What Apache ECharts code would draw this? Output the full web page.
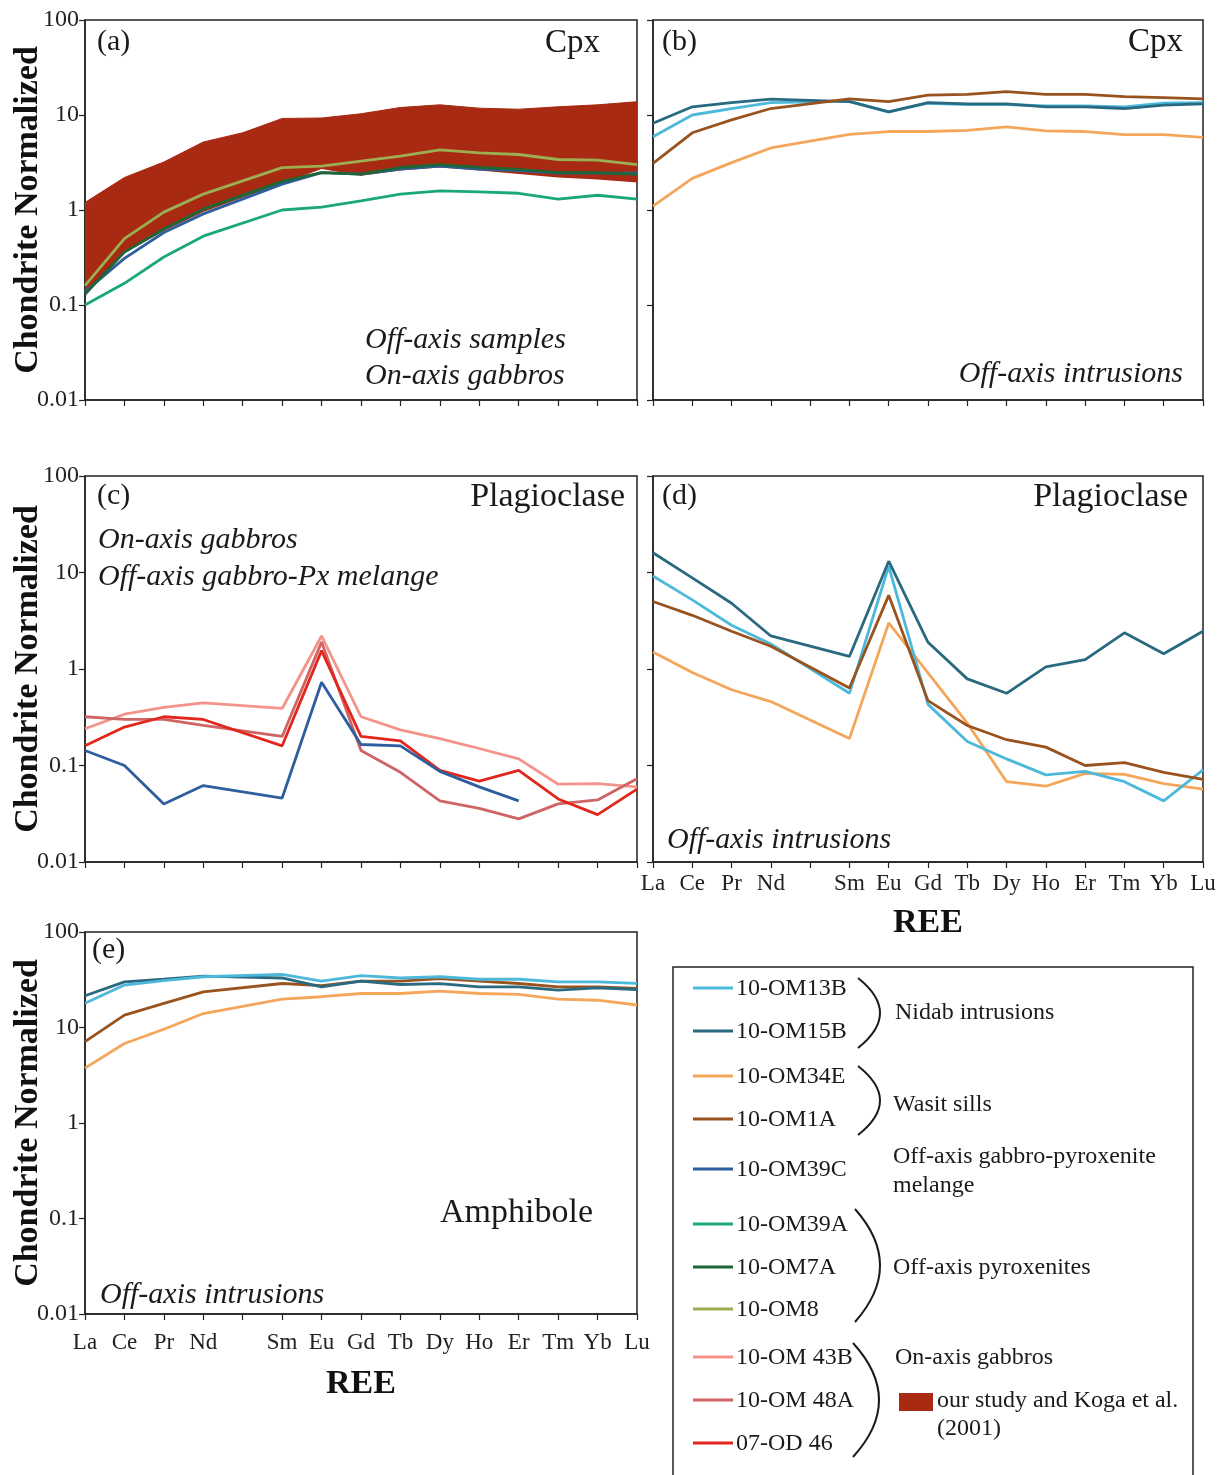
<!DOCTYPE html>
<html>
<head>
<meta charset="utf-8">
<script src="https://cdn.jsdelivr.net/npm/echarts@6/dist/echarts.min.js"></script>
<style>
  html, body { margin: 0; padding: 0; background: #fff; }
  #chart { width: 1222px; height: 1475px; }
</style>
</head>
<body>
<div id="chart"></div>
<script>
var chart = echarts.init(document.getElementById('chart'));
var FONT = '"Liberation Serif", "Times New Roman", serif';

// REE on x axis (Pm kept as an empty slot)
var ree = ['La','Ce','Pr','Nd','Pm','Sm','Eu','Gd','Tb','Dy','Ho','Er','Tm','Yb','Lu'];
var yTickLabels = ['0.01','0.1','1','10','100'];

// (a) Cpx - off-axis pyroxenites, melange, on-axis gabbro field
var cpxFieldLow  = [0.13,0.35,0.6,0.95,1.35,1.9,2.7,2.3,2.6,2.8,2.6,2.4,2.2,2.1,1.95];
var cpxFieldHigh = [1.2,2.2,3.2,5.2,6.5,9.2,9.3,10.3,12,12.8,11.8,11.5,12.2,12.8,13.8];
var cpxA_39A = [0.1,0.169,0.32,0.53,null,1.0,1.07,1.25,1.47,1.59,1.55,1.5,1.3,1.43,1.3];
var cpxA_39C = [0.138,0.31,0.58,0.91,null,1.87,2.47,2.38,2.7,2.9,2.7,2.6,2.45,2.45,2.45];
var cpxA_7A  = [0.13,0.36,0.63,1.02,null,2.0,2.47,2.38,2.8,3.0,2.8,2.68,2.47,2.47,2.37];
var cpxA_8   = [0.16,0.5,0.95,1.47,null,2.79,2.9,3.27,3.7,4.3,4.0,3.84,3.4,3.35,3.0];

// (b) Cpx - off-axis intrusions
var cpxB_34E = [1.1,2.15,3.15,4.5,null,6.25,6.7,6.7,6.9,7.5,6.8,6.7,6.2,6.2,5.8];
var cpxB_13B = [5.9,10,11.7,13.5,null,14,10.8,13.3,12.9,12.9,12.5,12.5,12.2,13.3,13.5];
var cpxB_15B = [8.2,12.2,13.5,14.7,null,13.8,10.8,13.5,13.1,13.1,12.2,12.2,11.7,12.7,13.1];
var cpxB_1A  = [3.1,6.5,8.9,11.7,null,14.8,13.8,16.2,16.5,17.6,16.5,16.5,15.6,15.2,14.8];

// (c) Plagioclase - on-axis gabbros, melange
var plagC_43B  = [0.24,0.34,0.40,0.445,null,0.39,2.2,0.32,0.234,0.19,0.15,0.117,0.064,0.065,0.06];
var plagC_48A  = [0.32,0.30,0.30,0.26,null,0.2,1.9,0.143,0.085,0.043,0.036,0.028,0.04,0.044,0.073];
var plagC_OD46 = [0.16,0.25,0.32,0.30,null,0.16,1.55,0.2,0.18,0.089,0.069,0.089,0.045,0.031,0.057];
var plagC_39C  = [0.143,0.1,0.04,0.062,null,0.046,0.73,0.165,0.16,0.087,0.06,0.043,null,null,null];

// (d) Plagioclase - off-axis intrusions
var plagD_34E = [1.5,0.92,0.61,0.46,null,0.19,3.0,0.91,0.275,0.068,0.061,0.083,0.081,0.065,0.057];
var plagD_1A  = [5.0,3.6,2.46,1.72,null,0.635,5.8,0.47,0.26,0.185,0.155,0.1,0.107,0.085,0.072];
var plagD_13B = [9.2,5.2,2.84,1.82,null,0.56,11.6,0.43,0.177,0.117,0.08,0.087,0.068,0.043,0.09];
var plagD_15B = [16,8.8,4.8,2.2,null,1.35,13.1,1.89,0.79,0.56,1.05,1.25,2.37,1.44,2.46];

// (e) Amphibole - off-axis intrusions
var amphE_34E = [3.75,6.8,9.6,14,null,19.8,21,22.7,22.7,24,22.7,22.2,19.8,19.3,17.2];
var amphE_1A  = [7.1,13.5,17.9,23.6,null,28.9,27.4,30.6,30.6,32.5,30.6,28.9,26.6,26.6,25.6];
var amphE_15B = [21.5,30,32,34.5,null,33,26.6,30.6,28.2,28.8,26.6,26.6,24.6,26,25];
var amphE_13B = [17.9,27.8,31,34,null,36,30.6,35,33,34,32,32,30,30,29];

var colors = {
  '10-OM13B': '#4cb9da',
  '10-OM15B': '#2a6a80',
  '10-OM34E': '#f4a65a',
  '10-OM1A': '#99531f',
  '10-OM39C': '#2e5e9e',
  '10-OM39A': '#1aa874',
  '10-OM7A': '#1f6636',
  '10-OM8': '#9cae52',
  '10-OM 43B': '#f3938a',
  '10-OM 48A': '#cf6464',
  '07-OD 46': '#e2261c'
};
var fieldColor = '#a82a12';

var grids = [
  { left: 85, top: 20, width: 552, height: 380 },
  { left: 653, top: 20, width: 550, height: 380 },
  { left: 85, top: 476, width: 552, height: 386 },
  { left: 653, top: 476, width: 550, height: 386 },
  { left: 85, top: 932, width: 552, height: 382 }
];
grids.forEach(function (g) {
  g.show = true;
  g.borderColor = '#222';
  g.borderWidth = 1.5;
  g.containLabel = false;
});

function xAxis(i, showLabels, margin, nameGap) {
  return {
    type: 'category', gridIndex: i, data: ree, boundaryGap: false,
    axisLine: { show: true, lineStyle: { color: '#222', width: 1.5 } },
    axisTick: { show: true, inside: false, length: 6, interval: 0, lineStyle: { color: '#222', width: 1.2 } },
    axisLabel: {
      show: showLabels, interval: 0, margin: margin || 8,
      fontFamily: FONT, fontSize: 23, color: '#222',
      formatter: function (v) { return v === 'Pm' ? '' : v; }
    },
    name: showLabels ? 'REE' : '', nameLocation: 'middle', nameGap: nameGap || 40,
    nameMoveOverlap: false,
    nameTextStyle: { fontFamily: FONT, fontSize: 34, fontWeight: 'bold', color: '#111' },
    splitLine: { show: false }
  };
}

function yAxis(i, showLabels) {
  return {
    type: 'log', logBase: 10, min: 0.01, max: 100, gridIndex: i,
    axisLine: { show: true, lineStyle: { color: '#222', width: 1.5 } },
    axisTick: { show: true, inside: false, length: 6, lineStyle: { color: '#222', width: 1.2 } },
    axisLabel: {
      show: showLabels, margin: 6, fontFamily: FONT, fontSize: 24, color: '#222',
      formatter: function (v) { return yTickLabels[Math.round(Math.log10(v)) + 2]; }
    },
    splitLine: { show: false },
    name: showLabels ? 'Chondrite Normalized' : '', nameLocation: 'middle', nameGap: 40, nameRotate: 90,
    nameMoveOverlap: false,
    nameTextStyle: { fontFamily: FONT, fontSize: 34, fontWeight: 'bold', color: '#111' }
  };
}

function line(name, data, i) {
  return {
    type: 'line', name: name, data: data, xAxisIndex: i, yAxisIndex: i,
    symbol: 'none', connectNulls: true, silent: true, z: 3,
    lineStyle: { color: colors[name], width: 2.8 },
    itemStyle: { color: colors[name] }
  };
}

var series = [
  // (a) field drawn as a band between low and high edges
  {
    type: 'line', name: 'fieldLow', data: cpxFieldLow, xAxisIndex: 0, yAxisIndex: 0,
    stack: 'field', symbol: 'none', silent: true, z: 2,
    lineStyle: { opacity: 0 }
  },
  {
    type: 'line', name: 'fieldHigh', xAxisIndex: 0, yAxisIndex: 0,
    data: cpxFieldHigh.map(function (v, k) { return v - cpxFieldLow[k]; }),
    stack: 'field', symbol: 'none', silent: true, z: 2,
    lineStyle: { color: fieldColor, width: 1 },
    areaStyle: { color: fieldColor, opacity: 1 }
  },
  line('10-OM39A', cpxA_39A, 0),
  line('10-OM39C', cpxA_39C, 0),
  line('10-OM7A', cpxA_7A, 0),
  line('10-OM8', cpxA_8, 0),

  line('10-OM34E', cpxB_34E, 1),
  line('10-OM13B', cpxB_13B, 1),
  line('10-OM15B', cpxB_15B, 1),
  line('10-OM1A', cpxB_1A, 1),

  line('10-OM 43B', plagC_43B, 2),
  line('10-OM 48A', plagC_48A, 2),
  line('07-OD 46', plagC_OD46, 2),
  line('10-OM39C', plagC_39C, 2),

  line('10-OM34E', plagD_34E, 3),
  line('10-OM13B', plagD_13B, 3),
  line('10-OM1A', plagD_1A, 3),
  line('10-OM15B', plagD_15B, 3),

  line('10-OM34E', amphE_34E, 4),
  line('10-OM1A', amphE_1A, 4),
  line('10-OM15B', amphE_15B, 4),
  line('10-OM13B', amphE_13B, 4)
];

// text helpers for annotations and the legend box
function txt(x, y, s, size, opts) {
  opts = opts || {};
  return {
    type: 'text', x: x, y: y, z: 10, silent: true,
    style: {
      text: s, fontFamily: FONT, fontSize: size, fill: '#1a1a1a',
      fontStyle: opts.italic ? 'italic' : 'normal',
      align: opts.align || 'left', verticalAlign: 'middle'
    }
  };
}
function bracket(x, y1, y2, bulge) {
  return {
    type: 'bezierCurve', z: 10, silent: true,
    shape: { x1: x, y1: y1, x2: x, y2: y2, cpx1: x + bulge, cpy1: (y1 + y2) / 2 },
    style: { stroke: '#1a1a1a', lineWidth: 2, fill: null }
  };
}

var graphics = [
  txt(97, 42, '(a)', 30), txt(600, 43, 'Cpx', 33, { align: 'right' }),
  txt(365, 340, 'Off-axis samples', 30, { italic: true }),
  txt(365, 376, 'On-axis gabbros', 30, { italic: true }),

  txt(662, 42, '(b)', 30), txt(1183, 42, 'Cpx', 33, { align: 'right' }),
  txt(1183, 374, 'Off-axis intrusions', 30, { italic: true, align: 'right' }),

  txt(97, 496, '(c)', 30), txt(625, 497, 'Plagioclase', 34, { align: 'right' }),
  txt(98, 540, 'On-axis gabbros', 30, { italic: true }),
  txt(98, 577, 'Off-axis gabbro-Px melange', 30, { italic: true }),

  txt(662, 496, '(d)', 30), txt(1188, 497, 'Plagioclase', 34, { align: 'right' }),
  txt(667, 840, 'Off-axis intrusions', 30, { italic: true }),

  txt(92, 950, '(e)', 30), txt(440, 1213, 'Amphibole', 34),
  txt(100, 1295, 'Off-axis intrusions', 30, { italic: true }),

  {
    type: 'rect', z: 9, silent: true,
    shape: { x: 673, y: 967, width: 520, height: 520 },
    style: { fill: '#fff', stroke: '#222', lineWidth: 1.5 }
  }
];

var legendRows = [
  ['10-OM13B', 988], ['10-OM15B', 1031], ['10-OM34E', 1076], ['10-OM1A', 1119],
  ['10-OM39C', 1169], ['10-OM39A', 1224], ['10-OM7A', 1267], ['10-OM8', 1309],
  ['10-OM 43B', 1357], ['10-OM 48A', 1400], ['07-OD 46', 1443]
];
legendRows.forEach(function (r) {
  graphics.push({
    type: 'line', z: 10, silent: true,
    shape: { x1: 693, y1: r[1], x2: 733, y2: r[1] },
    style: { stroke: colors[r[0]], lineWidth: 3 }
  });
  graphics.push(txt(736, r[1] + 1, r[0], 24));
});

graphics.push(
  txt(895, 1013, 'Nidab intrusions', 24),
  txt(893, 1105, 'Wasit sills', 24),
  txt(893, 1157, 'Off-axis gabbro-pyroxenite', 24),
  txt(893, 1186, 'melange', 24),
  txt(893, 1268, 'Off-axis pyroxenites', 24),
  txt(895, 1358, 'On-axis gabbros', 24),
  {
    type: 'rect', z: 10, silent: true,
    shape: { x: 899, y: 1393, width: 34, height: 18 },
    style: { fill: fieldColor }
  },
  txt(937, 1401, 'our study and Koga et al.', 24),
  txt(937, 1429, '(2001)', 24),
  bracket(858, 978, 1048, 44),
  bracket(858, 1066, 1135, 44),
  bracket(855, 1209, 1322, 50),
  bracket(853, 1343, 1457, 52)
);

var option = {
  backgroundColor: '#fff',
  animation: false,
  grid: grids,
  xAxis: [
    xAxis(0, false), xAxis(1, false), xAxis(2, false),
    xAxis(3, true, 10, 44), xAxis(4, true, 17, 53)
  ],
  yAxis: [yAxis(0, true), yAxis(1, false), yAxis(2, true), yAxis(3, false), yAxis(4, true)],
  series: series,
  graphic: graphics
};

chart.setOption(option);
</script>
</body>
</html>
